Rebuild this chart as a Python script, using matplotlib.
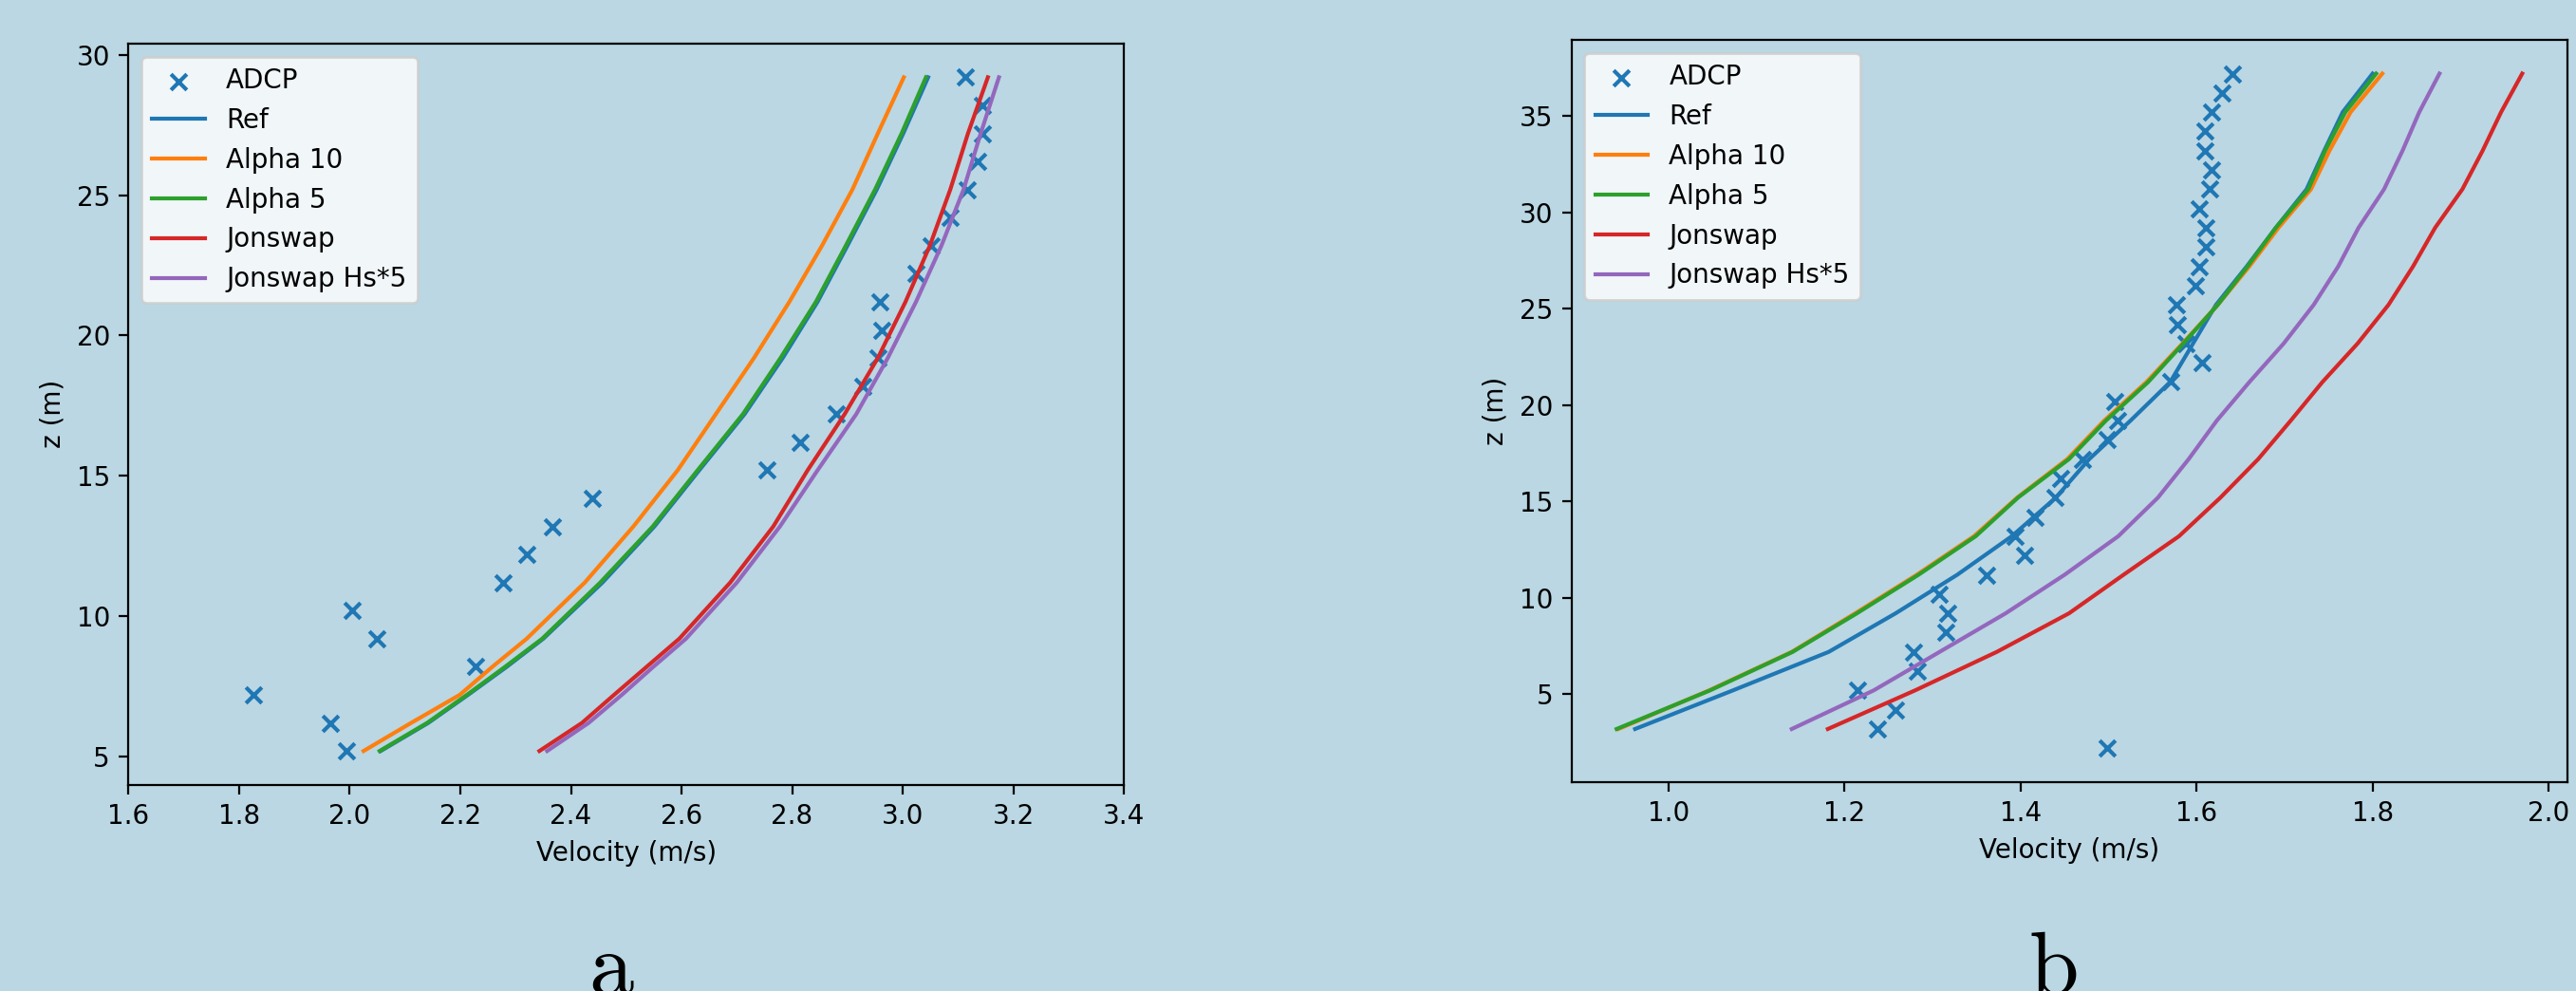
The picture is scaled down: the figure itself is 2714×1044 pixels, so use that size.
import matplotlib
matplotlib.use("Agg")
import matplotlib.pyplot as plt

plt.rcParams["mathtext.fontset"] = "cm"

BG = "#bad7e3"

# ---- panel a ----
z_adcp_a = [5.2, 6.2, 7.2, 8.2, 9.2, 10.2, 11.2, 12.2, 13.2, 14.2, 15.2, 16.2, 17.2,
            18.2, 19.2, 20.2, 21.2, 22.2, 23.2, 24.2, 25.2, 26.2, 27.2, 28.2, 29.2]
u_adcp_a = [1.994, 1.965, 1.826, 2.227, 2.049, 2.005, 2.278, 2.321, 2.366, 2.438, 2.754, 2.815, 2.880,
            2.928, 2.955, 2.962, 2.959, 3.024, 3.051, 3.085, 3.117, 3.136, 3.144, 3.144, 3.113]

z_mod_a = [5.2, 6.2, 7.2, 8.2, 9.2, 11.2, 13.2, 15.2, 17.2, 19.2, 21.2, 23.2, 25.2, 27.2, 29.2]
ref_a = [2.056, 2.142, 2.214, 2.284, 2.350, 2.457, 2.551, 2.632, 2.714, 2.783, 2.846, 2.900, 2.953, 3.001, 3.046]
alpha10_a = [2.025, 2.111, 2.199, 2.258, 2.320, 2.425, 2.513, 2.593, 2.662, 2.731, 2.795, 2.854, 2.909, 2.955, 3.002]
alpha5_a = [2.054, 2.140, 2.212, 2.281, 2.348, 2.453, 2.548, 2.629, 2.711, 2.779, 2.843, 2.897, 2.950, 2.998, 3.042]
jonswap_a = [2.343, 2.420, 2.478, 2.537, 2.596, 2.688, 2.766, 2.828, 2.895, 2.955, 3.005, 3.049, 3.086, 3.118, 3.154]
jonswap5_a = [2.357, 2.432, 2.492, 2.549, 2.608, 2.700, 2.778, 2.846, 2.916, 2.973, 3.024, 3.070, 3.110, 3.141, 3.174]

# ---- panel b ----
z_adcp_b = [2.2, 3.2, 4.2, 5.2, 6.2, 7.2, 8.2, 9.2, 10.2, 11.2, 12.2, 13.2, 14.2, 15.2, 16.2, 17.2, 18.2, 19.2,
            20.2, 21.2, 22.2, 23.2, 24.2, 25.2, 26.2, 27.2, 28.2, 29.2, 30.2, 31.2, 32.2, 33.2, 34.2, 35.2, 36.2, 37.2]
u_adcp_b = [1.498, 1.237, 1.258, 1.215, 1.283, 1.278, 1.315, 1.317, 1.307, 1.361, 1.404, 1.394, 1.416, 1.439,
            1.445, 1.470, 1.498, 1.510, 1.507, 1.571, 1.606, 1.588, 1.578, 1.577, 1.599, 1.603, 1.611, 1.611,
            1.603, 1.615, 1.617, 1.609, 1.609, 1.617, 1.629, 1.641]

z_mod_b = [3.2, 5.2, 7.2, 9.2, 11.2, 13.2, 15.2, 17.2, 19.2, 21.2, 23.2, 25.2, 27.2, 29.2, 31.2, 33.2, 35.2, 37.2]
ref_b = [0.962, 1.073, 1.182, 1.258, 1.328, 1.390, 1.440, 1.478, 1.525, 1.570, 1.596, 1.622, 1.657, 1.690, 1.725, 1.745, 1.766, 1.800]
alpha10_b = [0.943, 1.046, 1.140, 1.212, 1.282, 1.347, 1.396, 1.453, 1.495, 1.543, 1.584, 1.624, 1.660, 1.693, 1.730, 1.751, 1.775, 1.811]
alpha5_b = [0.941, 1.047, 1.141, 1.214, 1.284, 1.349, 1.397, 1.455, 1.497, 1.545, 1.585, 1.624, 1.658, 1.690, 1.727, 1.746, 1.769, 1.804]
jonswap_b = [1.181, 1.280, 1.373, 1.455, 1.517, 1.580, 1.627, 1.670, 1.707, 1.743, 1.783, 1.818, 1.846, 1.871, 1.902, 1.925, 1.946, 1.970]
jonswap5_b = [1.140, 1.233, 1.308, 1.383, 1.450, 1.511, 1.556, 1.591, 1.623, 1.660, 1.699, 1.733, 1.761, 1.784, 1.813, 1.834, 1.853, 1.876]

fig = plt.figure(figsize=(13.57, 5.22), dpi=200, facecolor=BG)
ax1 = fig.add_axes([0.0499, 0.2082, 0.3864, 0.7478])
ax2 = fig.add_axes([0.6100, 0.2109, 0.3867, 0.7489])


def draw(ax, z_adcp, u_adcp, z_mod, ref, a10, a5, jon, jon5):
    ax.set_facecolor(BG)
    ax.scatter(u_adcp, z_adcp, marker="x", color="C0", label="ADCP")
    ax.plot(ref, z_mod, color="C0", label="Ref")
    ax.plot(a10, z_mod, color="C1", label="Alpha 10")
    ax.plot(a5, z_mod, color="C2", label="Alpha 5")
    ax.plot(jon, z_mod, color="C3", label="Jonswap")
    ax.plot(jon5, z_mod, color="C4", label="Jonswap Hs*5")
    ax.set_xlabel("Velocity (m/s)")
    ax.set_ylabel("z (m)")
    ax.legend(loc="upper left")


draw(ax1, z_adcp_a, u_adcp_a, z_mod_a, ref_a, alpha10_a, alpha5_a, jonswap_a, jonswap5_a)
ax1.set_xlim(1.6, 3.4)
draw(ax2, z_adcp_b, u_adcp_b, z_mod_b, ref_b, alpha10_b, alpha5_b, jonswap_b, jonswap5_b)

# subfigure letters, cut by the bottom edge as in the original
fig.text(0.2373, -0.003, r"$\mathrm{a}$", fontsize=34, ha="center", va="baseline")
fig.text(0.797, -0.003, r"$\mathrm{b}$", fontsize=34, ha="center", va="baseline")

fig.savefig("out.png", dpi=200, facecolor=BG)
